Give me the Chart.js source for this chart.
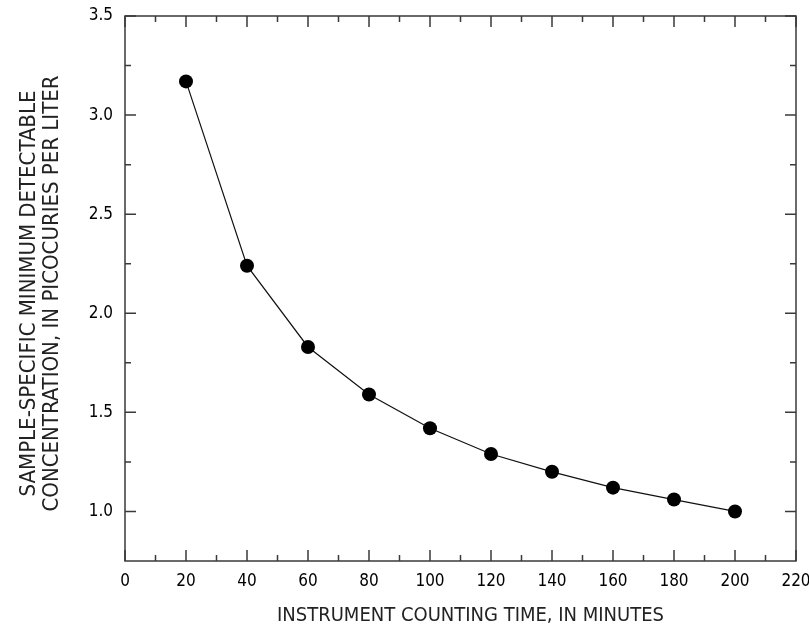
<!DOCTYPE html>
<html>
<head>
<meta charset="utf-8">
<script src="https://cdn.jsdelivr.net/npm/chart.js@4.4.1/dist/chart.umd.min.js"></script>
<style>
  html, body { margin: 0; padding: 0; background: #fff; }
  #wrap { width: 809px; height: 629px; }
</style>
</head>
<body>
<div id="wrap"><canvas id="mdcChart" width="809" height="629"></canvas></div>
<script>
// counting time (minutes) and sample-specific MDC (pCi/L)
const countTimes = [20, 40, 60, 80, 100, 120, 140, 160, 180, 200];
const mdcValues = [3.17, 2.24, 1.83, 1.59, 1.42, 1.29, 1.20, 1.12, 1.06, 1.00];
const xTicks = [0, 20, 40, 60, 80, 100, 120, 140, 160, 180, 200, 220];
const yTicks = [1.0, 1.5, 2.0, 2.5, 3.0, 3.5];
const xMinorTicks = [10, 30, 50, 70, 90, 110, 130, 150, 170, 190, 210];
const yMinorTicks = [1.25, 1.75, 2.25, 2.75, 3.25];
const xTitle = "INSTRUMENT COUNTING TIME, IN MINUTES";
const yTitle = ["SAMPLE-SPECIFIC MINIMUM DETECTABLE", "CONCENTRATION, IN PICOCURIES PER LITER"];

const FONT = "'Liberation Sans Narrow', 'DejaVu Sans Condensed', sans-serif";
const AXIS = "#3a3a3a";

// box + inward ticks on all four sides, plus axis titles
const framePlugin = {
  id: "frame",
  beforeDatasetsDraw(chart) {
    const { ctx, chartArea: a, scales } = chart;
    const xs = scales.x, ys = scales.y;
    ctx.save();
    ctx.strokeStyle = AXIS;
    ctx.lineWidth = 1.5;
    ctx.strokeRect(a.left, a.top, a.right - a.left, a.bottom - a.top);
    ctx.beginPath();
    const tx = (v, len) => {
      const px = xs.getPixelForValue(v);
      ctx.moveTo(px, a.bottom); ctx.lineTo(px, a.bottom - len);
      ctx.moveTo(px, a.top); ctx.lineTo(px, a.top + len);
    };
    const ty = (v, len) => {
      const py = ys.getPixelForValue(v);
      ctx.moveTo(a.left, py); ctx.lineTo(a.left + len, py);
      ctx.moveTo(a.right, py); ctx.lineTo(a.right - len, py);
    };
    xTicks.forEach(v => tx(v, 11));
    xMinorTicks.forEach(v => tx(v, 6));
    yTicks.forEach(v => ty(v, 11));
    yMinorTicks.forEach(v => ty(v, 6));
    ctx.stroke();
    ctx.restore();
  },
  afterDraw(chart) {
    const { ctx, chartArea: a } = chart;
    ctx.save();
    ctx.fillStyle = "#222";
    ctx.textAlign = "center";
    ctx.textBaseline = "alphabetic";
    ctx.font = "20px " + FONT;
    ctx.fillText(xTitle, (a.left + a.right) / 2 + 10, 621);
    ctx.font = "22px " + FONT;
    ctx.translate(0, (a.top + a.bottom) / 2 + 5);
    ctx.rotate(-Math.PI / 2);
    ctx.fillText(yTitle[0], 0, 35);
    ctx.fillText(yTitle[1], 0, 58);
    ctx.restore();
  }
};

const ctx = document.getElementById("mdcChart").getContext("2d");
new Chart(ctx, {
  type: "line",
  data: {
    datasets: [{
      data: countTimes.map((t, i) => ({ x: t, y: mdcValues[i] })),
      borderColor: "#111",
      borderWidth: 1.2,
      pointRadius: 7,
      pointBackgroundColor: "#000",
      pointBorderColor: "#000",
      pointBorderWidth: 0,
      tension: 0,
      fill: false,
    }],
  },
  options: {
    responsive: false,
    animation: false,
    layout: { padding: { left: 0, top: 16, right: 13, bottom: 0 } },
    plugins: { legend: { display: false }, tooltip: { enabled: false } },
    scales: {
      x: {
        type: "linear",
        min: 0,
        max: 220,
        afterBuildTicks: s => { s.ticks = xTicks.map(v => ({ value: v })); },
        afterFit: s => { s.height = 68; s.paddingLeft = 0; s.paddingRight = 0; },
        grid: { display: false, drawTicks: false },
        border: { display: false },
        ticks: { padding: 10, color: "#000", font: { family: FONT, size: 17 }, maxRotation: 0 },
      },
      y: {
        min: 0.75,
        max: 3.5,
        afterBuildTicks: s => { s.ticks = yTicks.map(v => ({ value: v })); },
        afterFit: s => { s.width = 125; s.paddingTop = 0; s.paddingBottom = 0; },
        grid: { display: false, drawTicks: false },
        border: { display: false },
        ticks: {
          padding: 12,
          color: "#000",
          font: { family: FONT, size: 17 },
          callback: v => Number(v).toFixed(1),
        },
      },
    },
  },
  plugins: [framePlugin],
});
</script>
</body>
</html>
